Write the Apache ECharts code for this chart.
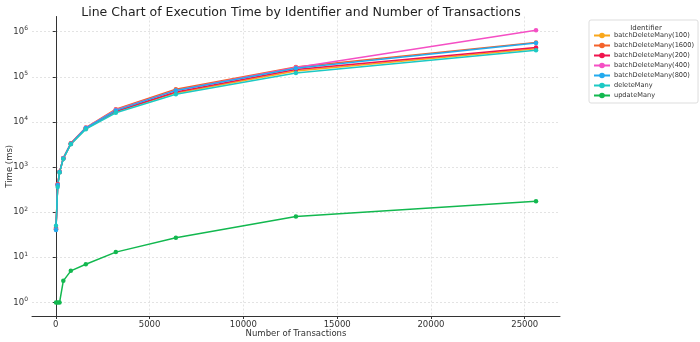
<!DOCTYPE html>
<html>
<head>
<meta charset="utf-8">
<script src="https://cdn.jsdelivr.net/npm/echarts@6/dist/echarts.min.js"></script>
<style>html,body{margin:0;padding:0;background:#fff;}#c{width:700px;height:342px;}</style>
</head>
<body>
<div id="c"></div>
<script>
const transactions = [10, 100, 200, 400, 800, 1600, 3200, 6400, 12800, 25600];
const seriesNames = ['batchDeleteMany(100)', 'batchDeleteMany(1600)', 'batchDeleteMany(200)', 'batchDeleteMany(400)', 'batchDeleteMany(800)', 'deleteMany', 'updateMany'];
const batch100 = [42, 400, 770, 1550, 3250, 7100, 17000, 44000, 135000, 420000];
const batch1600 = [45, 420, 790, 1570, 3350, 7500, 19200, 53000, 165000, 580000];
const batch200 = [43, 410, 780, 1560, 3300, 7200, 17300, 46000, 145000, 445000];
const batch400 = [41, 405, 780, 1560, 3300, 7400, 18500, 50000, 160000, 1080000];
const batch800 = [40, 400, 775, 1550, 3300, 7300, 18000, 50000, 155000, 560000];
const deleteMany = [50, 360, 760, 1530, 3200, 6900, 16000, 41000, 122000, 390000];
const updateMany = [1, 1, 1, 3, 5, 7, 13, 27, 80, 175];
const colors = ['#f9a71b', '#f4622a', '#f0134d', '#f54fc4', '#22aaee', '#1cc9c4', '#12b84f'];
const allValues = [batch100, batch1600, batch200, batch400, batch800, deleteMany, updateMany];

const font = 'DejaVu Sans';
const chart = echarts.init(document.getElementById('c'), null, {renderer: 'canvas'});
const series = seriesNames.map((name, i) => ({
  name: name,
  type: 'line',
  data: transactions.map((x, j) => [x, allValues[i][j]]),
  symbol: 'circle',
  symbolSize: 4.5,
  lineStyle: {width: 1.5, color: colors[i]},
  itemStyle: {color: colors[i]},
  emphasis: {disabled: true},
  animation: false
}));

chart.setOption({
  animation: false,
  title: [{
    text: 'Line Chart of Execution Time by Identifier and Number of Transactions',
    left: 296, top: 1, textAlign: 'center',
    textStyle: {fontFamily: font, fontSize: 12.5, fontWeight: 'normal', color: '#222'}
  }, {
    text: 'Identifier',
    left: 641, top: 20, textAlign: 'center',
    textStyle: {fontFamily: font, fontSize: 7, fontWeight: 'normal', color: '#333'}
  }],
  legend: {
    data: seriesNames,
    orient: 'vertical',
    left: 589, top: 20,
    padding: [12, 4, 4, 4],
    itemGap: 3,
    itemWidth: 16, itemHeight: 7,
    borderColor: '#ddd', borderWidth: 1, borderRadius: 2,
    textStyle: {fontFamily: font, fontSize: 6.6, color: '#333', padding: [0, 0, 0, -1]}
  },
  grid: {left: 32, right: 140, top: 16.5, bottom: 26, containLabel: false, outerBoundsMode: 'none'},
  xAxis: {
    type: 'value',
    min: -1269.5, max: 26879.5,
    splitNumber: 6,
    name: 'Number of Transactions',
    nameLocation: 'middle', nameGap: 13,
    nameMoveOverlap: false,
    nameTextStyle: {fontFamily: font, fontSize: 8.5, color: '#333'},
    axisLine: {show: true, lineStyle: {color: '#333', width: 1}},
    axisTick: {show: true, length: 3, lineStyle: {color: '#333'}},
    axisLabel: {fontFamily: font, fontSize: 8.5, color: '#333', margin: 4, showMinLabel: false, showMaxLabel: false,
      formatter: function (v) { return String(v); }},
    splitLine: {show: true, showMinLine: false, showMaxLine: false, lineStyle: {color: '#dcdcdc', type: [2, 2], width: 0.8}}
  },
  yAxis: {
    type: 'log',
    logBase: 10,
    min: Math.pow(10, -0.302), max: Math.pow(10, 6.337),
    name: 'Time (ms)',
    nameLocation: 'middle', nameGap: 18,
    nameMoveOverlap: false,
    nameTextStyle: {fontFamily: font, fontSize: 8.5, color: '#333'},
    axisLine: {show: true, lineStyle: {color: '#333', width: 1}},
    axisTick: {show: true, length: 3, lineStyle: {color: '#333'}},
    axisLabel: {
      fontFamily: font, fontSize: 8.5, color: '#333', margin: 4,
      showMinLabel: false, showMaxLabel: false,
      formatter: function (v) {
        const n = Math.round(Math.log10(v));
        return '10{s|' + n + '}';
      },
      rich: {s: {fontFamily: font, fontSize: 6, color: '#333', padding: [0, 0, 6, 0]}}
    },
    splitLine: {show: true, showMinLine: false, showMaxLine: false, lineStyle: {color: '#dcdcdc', type: [2, 2], width: 0.8}}
  },
  series: series
});
</script>
</body>
</html>
